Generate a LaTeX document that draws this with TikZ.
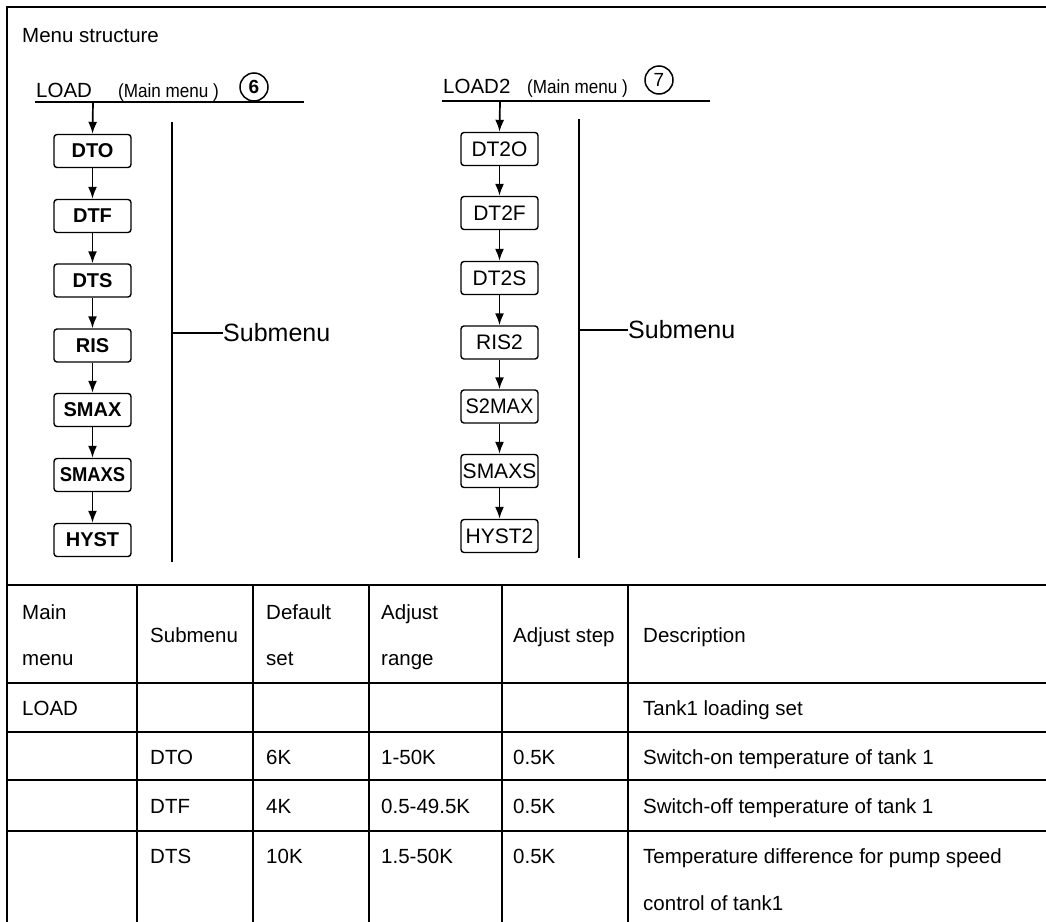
\documentclass[tikz,border=0pt]{standalone}
\usepackage{fontspec}
\usepackage{graphicx}
\setmainfont{Liberation Sans}
\usetikzlibrary{arrows.meta}
\newcommand{\TabFont}{\fontsize{20.5}{24}\selectfont}
\newcommand{\BoxFontL}{\fontsize{20}{24}\selectfont\bfseries}
\newcommand{\BoxFontR}{\fontsize{21}{24}\selectfont}
\newcommand{\SubFont}{\fontsize{25}{28}\selectfont}
\newcommand{\MMFont}{\fontsize{19}{22}\selectfont}
\tikzset{
  gridline/.style={line width=2.4pt},
  menubox/.style={draw, rounded corners=3pt, line width=1.4pt, minimum width=77pt, minimum height=33pt, inner sep=0pt},
  arr/.style={line width=1.7pt, -{Latex[length=12pt,width=9pt]}},
  dline/.style={line width=1.8pt},
  circnum/.style={circle, draw, line width=1.5pt, inner sep=0pt, minimum size=28pt, font=\fontsize{19}{20}\selectfont\bfseries},
  tx/.style={anchor=base west, inner sep=0pt, font=\TabFont},
}
\begin{document}
\begin{tikzpicture}[x=1pt,y=-1pt]
\useasboundingbox (0,0) rectangle (1046,921);
% frame (right and bottom fall outside the page)
\draw[gridline] (7,935) -- (7,7) -- (1060,7);
% title
\node[tx] (title) at (22,42) {Menu structure};

% ---------- left diagram ----------
\node[anchor=base west, inner sep=0pt, font=\fontsize{20.5}{24}\selectfont] (load) at (36,97) {LOAD};
\node[anchor=base west, inner sep=0pt, font=\MMFont] (mm1) at (118,97) {\scalebox{0.9}[1]{(Main menu )}};
\node[circnum] (c6) at (254,87) {6};
\coordinate (l1a) at (35,102);
\coordinate (l1b) at (304,102);
\draw[dline] (l1a) -- (l1b);
\coordinate (l1t) at (93,102);

\node[menubox, font=\BoxFontL] (dto) at (92.5,151) {DTO};
\node[menubox, font=\BoxFontL] (dtf) at (92.5,216) {DTF};
\node[menubox, font=\BoxFontL] (dts) at (92.5,280.5) {DTS};
\node[menubox, font=\BoxFontL] (ris) at (92.5,345.5) {RIS};
\node[menubox, font=\BoxFontL] (smax) at (92.5,410) {SMAX};
\node[menubox, font=\BoxFontL] (smaxs) at (92.5,475) {\scalebox{0.92}[1]{SMAXS}};
\node[menubox, font=\BoxFontL] (hyst) at (92.5,540) {HYST};
\draw[arr] (l1t) -- (dto.north);
\draw[arr] (dto) -- (dtf);
\draw[arr] (dtf) -- (dts);
\draw[arr] (dts) -- (ris);
\draw[arr] (ris) -- (smax);
\draw[arr] (smax) -- (smaxs);
\draw[arr] (smaxs) -- (hyst);

\coordinate (v1t) at (172,122);
\coordinate (v1b) at (172,562);
\coordinate (v1m) at (172,333);
\draw[dline] (v1t) -- (v1b);
\node[anchor=west, inner sep=0pt, font=\SubFont] (sub1) at (223,333) {Submenu};
\draw[dline] (v1m) -- (sub1.west);

% ---------- right diagram ----------
\node[anchor=base west, inner sep=0pt, font=\fontsize{20.5}{24}\selectfont] (load2) at (443,93) {LOAD2};
\node[anchor=base west, inner sep=0pt, font=\MMFont] (mm2) at (527,93) {\scalebox{0.9}[1]{(Main menu )}};
\node[circnum, font=\fontsize{19}{20}\selectfont] (c7) at (659,80) {7};
\coordinate (l2a) at (442,101);
\coordinate (l2b) at (710,101);
\draw[dline] (l2a) -- (l2b);
\coordinate (l2t) at (500,101);

\node[menubox, font=\BoxFontR] (dt2o) at (499.5,149) {DT2O};
\node[menubox, font=\BoxFontR] (dt2f) at (499.5,213) {DT2F};
\node[menubox, font=\BoxFontR] (dt2s) at (499.5,278) {DT2S};
\node[menubox, font=\BoxFontR] (ris2) at (499.5,342.5) {RIS2};
\node[menubox, font=\BoxFontR] (s2max) at (499.5,406.5) {\scalebox{0.95}[1]{S2MAX}};
\node[menubox, font=\BoxFontR] (smaxs2) at (499.5,471) {SMAXS};
\node[menubox, font=\BoxFontR] (hyst2) at (499.5,536) {HYST2};
\draw[arr] (l2t) -- (dt2o.north);
\draw[arr] (dt2o) -- (dt2f);
\draw[arr] (dt2f) -- (dt2s);
\draw[arr] (dt2s) -- (ris2);
\draw[arr] (ris2) -- (s2max);
\draw[arr] (s2max) -- (smaxs2);
\draw[arr] (smaxs2) -- (hyst2);

\coordinate (v2t) at (579,119);
\coordinate (v2b) at (579,558);
\coordinate (v2m) at (579,330);
\draw[line width=1.5pt] (v2t) -- (v2b);
\node[anchor=west, inner sep=0pt, font=\SubFont] (sub2) at (628,330) {Submenu};
\draw[line width=1.5pt] (v2m) -- (sub2.west);

% ---------- table ----------
\draw[gridline] (7,585) -- (1060,585);
\draw[gridline] (7,683) -- (1060,683);
\draw[gridline] (7,732) -- (1060,732);
\draw[gridline] (7,780) -- (1060,780);
\draw[gridline] (7,831) -- (1060,831);
\foreach \cx in {137,253,369,502,628} {
  \draw[gridline] (\cx,585) -- (\cx,935);
}
% header
\node[tx] (h1a) at (22,619) {Main};
\node[tx] (h1b) at (22,665) {menu};
\node[tx] (h2) at (150,642) {Submenu};
\node[tx] (h3a) at (266,619) {Default};
\node[tx] (h3b) at (266,665) {set};
\node[tx] (h4a) at (381,619) {Adjust};
\node[tx] (h4b) at (381,665) {range};
\node[tx] (h5) at (513,642) {Adjust step};
\node[tx] (h6) at (643,642) {Description};
% rows
\node[tx] (r1a) at (22,715) {LOAD};
\node[tx] (r1f) at (643,715) {Tank1 loading set};
\node[tx] (r2b) at (150,764) {DTO};
\node[tx] (r2c) at (266,764) {6K};
\node[tx] (r2d) at (381,764) {1-50K};
\node[tx] (r2e) at (513,764) {0.5K};
\node[tx] (r2f) at (643,764) {Switch-on temperature of tank 1};
\node[tx] (r3b) at (150,813) {DTF};
\node[tx] (r3c) at (266,813) {4K};
\node[tx] (r3d) at (381,813) {0.5-49.5K};
\node[tx] (r3e) at (513,813) {0.5K};
\node[tx] (r3f) at (643,813) {Switch-off temperature of tank 1};
\node[tx] (r4b) at (150,863) {DTS};
\node[tx] (r4c) at (266,863) {10K};
\node[tx] (r4d) at (381,863) {1.5-50K};
\node[tx] (r4e) at (513,863) {0.5K};
\node[tx] (r4f) at (643,863) {Temperature difference for pump speed};
\node[tx] (r4g) at (643,910) {control of tank1};
\end{tikzpicture}
\end{document}
